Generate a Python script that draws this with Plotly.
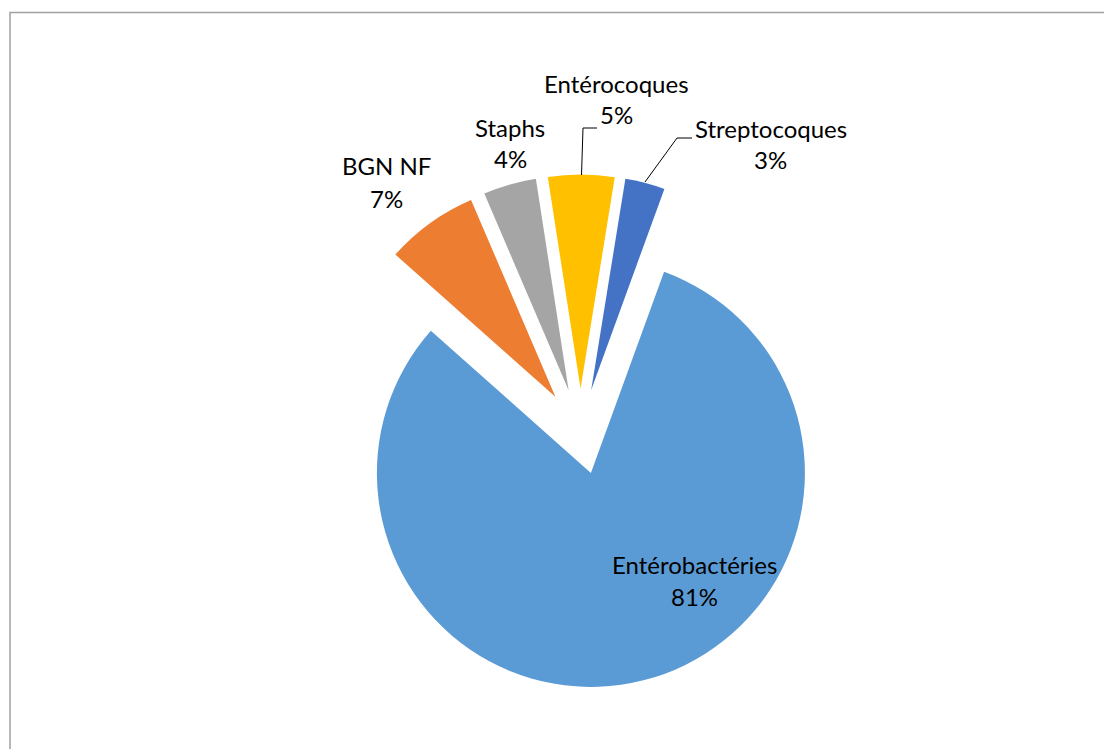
import plotly.graph_objects as go

# Répartition des germes isolés (%)
categories = ["Entérobactéries", "BGN NF", "Staphs", "Entérocoques", "Streptocoques"]
values = [81, 7, 4, 5, 3]
colors = ["#5B9BD5", "#ED7D31", "#A5A5A5", "#FFC000", "#4472C4"]

W, H = 1104, 749
FONT = "Lato"
FS = 24

# label layout in pixels: centre x, baseline of the name, baseline of the percentage
label_px = [
    (694, 574, 606),
    (386.5, 175, 208),
    (510, 137, 168),
    (616, 93, 124),
    (770.5, 138, 169),
]

# leader lines in pixels for the small top slices
leaders_px = [
    [(581.5, 175), (583, 128), (597, 128)],
    [(645, 182), (677, 138), (692, 138)],
]


def px(x, y):
    return x / W, 1 - y / H


fig = go.Figure(
    go.Pie(
        labels=categories,
        values=values,
        marker=dict(colors=colors, line=dict(width=0)),
        sort=False,
        direction="clockwise",
        rotation=20,
        pull=[0.2] * len(values),
        textinfo="none",
        hoverinfo="label+percent",
        showlegend=False,
        domain=dict(x=[323.6 / W, 837.2 / W], y=[60.8 / H, 574.4 / H]),
    )
)

# vertical offset from a baseline to the middle of a text line box
MID = 0.387 * FS

annotations = []
for name, v, (lx, b1, b2) in zip(categories, values, label_px):
    for txt, base in ((name, b1), (f"{v}%", b2)):
        x, y = px(lx, base - MID)
        annotations.append(
            dict(
                x=x, y=y, xref="paper", yref="paper",
                text=txt,
                showarrow=False,
                xanchor="center", yanchor="middle",
                font=dict(family=FONT, size=FS, color="#000000"),
            )
        )

shapes = [
    dict(
        type="rect", xref="paper", yref="paper",
        x0=10 / W, y0=-0.1, x1=1.1, y1=1 - 12.5 / H,
        line=dict(color="#A0A0A0", width=1.5),
        fillcolor="rgba(0,0,0,0)",
    )
]
for pts in leaders_px:
    for (x0, y0), (x1, y1) in zip(pts[:-1], pts[1:]):
        a, b = px(x0, y0)
        c, d = px(x1, y1)
        shapes.append(
            dict(type="line", xref="paper", yref="paper",
                 x0=a, y0=b, x1=c, y1=d,
                 line=dict(color="#000000", width=1))
        )

fig.update_layout(
    width=W, height=H,
    margin=dict(l=0, r=0, t=0, b=0),
    paper_bgcolor="#FFFFFF",
    plot_bgcolor="#FFFFFF",
    annotations=annotations,
    shapes=shapes,
    font=dict(family=FONT),
)

fig.write_html("out.html")
